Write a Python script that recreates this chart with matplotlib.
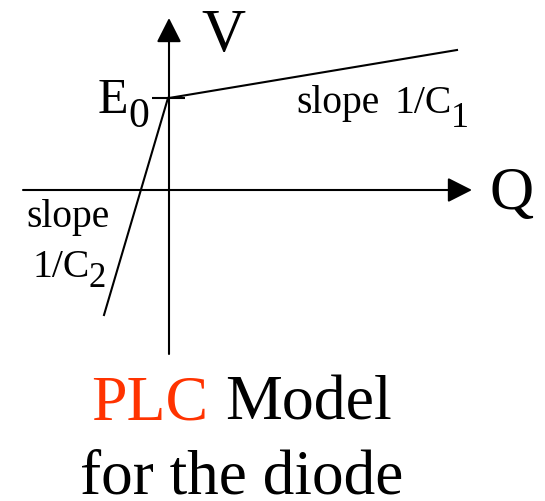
import matplotlib
matplotlib.use("Agg")
import matplotlib.pyplot as plt

# ------------------------------
# diagram geometry (pixel coords, y down)
# ------------------------------
v_axis_x = [169, 169]
v_axis_y = [354, 18]
q_axis_x = [23, 472]
q_axis_y = [190, 190]

e0_tick_x = [152, 185]
e0_tick_y = [98, 98]

branch1_x = [169, 457]
branch1_y = [98, 50]
branch2_x = [168, 104]
branch2_y = [98, 315]

SERIF = ["Liberation Serif", "DejaVu Serif"]
RED = "#ff3300"

fig = plt.figure(figsize=(5.45, 5.01), dpi=100)
ax = fig.add_axes([0, 0, 1, 1])
ax.set_xlim(0, 545)
ax.set_ylim(501, 0)
ax.axis("off")

lw = 1.5
arrow = dict(arrowstyle="-|>,head_length=0.75,head_width=0.38",
             mutation_scale=20, lw=lw, color="black", shrinkA=0, shrinkB=0)
ax.annotate("", xy=(v_axis_x[1], v_axis_y[1]), xytext=(v_axis_x[0], v_axis_y[0]),
            arrowprops=arrow)
ax.annotate("", xy=(q_axis_x[1], q_axis_y[1]), xytext=(q_axis_x[0], q_axis_y[0]),
            arrowprops=arrow)

ax.plot(e0_tick_x, e0_tick_y, color="black", lw=lw, solid_capstyle="butt")
ax.plot(branch1_x, branch1_y, color="black", lw=lw)
ax.plot(branch2_x, branch2_y, color="black", lw=lw)

def txt(x, y, s, size, color="black", ha="left"):
    ax.text(x, y, s, fontsize=size, family=SERIF, color=color,
            ha=ha, va="baseline")

# axis labels
txt(201, 51, "V", 44)
txt(489, 209, "Q", 44)
txt(98, 113, "E", 36)
txt(128, 127, "0", 30)

# slope labels
txt(296, 113, "slope", 28.5)
txt(394, 113, "1/C", 28.5)
txt(451, 127, "1", 26)
txt(26, 227, "slope", 28.5)
txt(32, 277, "1/C", 28.5)
txt(89, 287, "2", 25)

# caption
txt(91, 419, "PLC", 46, color=RED)
txt(225, 419, "Model", 46)
txt(242, 494, "for the diode", 45.5, ha="center")

fig.savefig("out.png", dpi=100)
